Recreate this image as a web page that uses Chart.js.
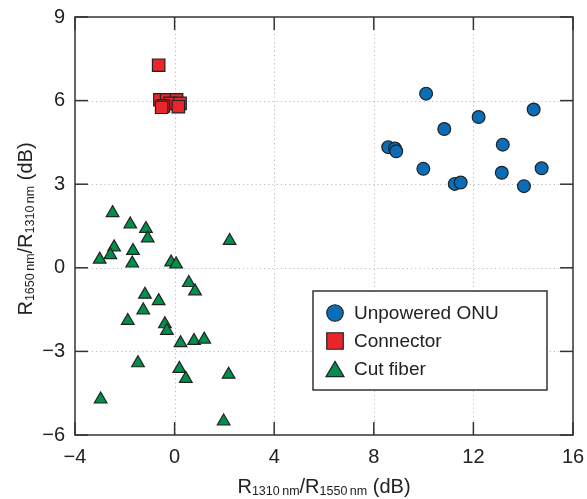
<!DOCTYPE html>
<html>
<head>
<meta charset="utf-8">
<script src="https://cdn.jsdelivr.net/npm/chart.js@4/dist/chart.umd.min.js"></script>
<style>
html,body{margin:0;padding:0;background:#fff;}
#wrap{position:relative;width:587px;height:499px;}
</style>
</head>
<body>
<div id="wrap"><canvas id="c" width="587" height="499"></canvas></div>
<script>
// ---- data ----
const xTicks = [-4, 0, 4, 8, 12, 16];
const yTicks = [-6, -3, 0, 3, 6, 9];

const seriesNames = ["Unpowered ONU", "Connector", "Cut fiber"];

const onuX = [10.10, 14.42, 12.21, 10.83, 8.58, 8.85, 8.90, 13.18, 9.99, 14.74, 13.14, 11.25, 11.49, 14.03];
const onuY = [6.25, 5.68, 5.41, 4.98, 4.33, 4.28, 4.18, 4.42, 3.55, 3.57, 3.41, 3.01, 3.06, 2.93];

const connX = [-0.64, -0.59, -0.32, 0.08, -0.18, 0.22, -0.45, 0.15, -0.52];
const connY = [7.27, 6.03, 6.03, 6.03, 5.90, 5.90, 5.81, 5.78, 5.76];

const cutX = [-2.49, -1.78, -1.15, -1.08, 2.21, -2.43, -1.67, -2.58, -3.01, -1.70, -0.14, 0.06, 0.57, 0.82, -1.19, -0.64, -1.26, -1.88, -0.39, -0.31, 0.24, 0.78, 1.19, -1.47, 0.19, 0.45, 2.17, -2.97, 1.97];
const cutY = [1.97, 1.56, 1.40, 1.06, 0.97, 0.74, 0.61, 0.46, 0.30, 0.16, 0.20, 0.13, -0.54, -0.84, -0.96, -1.19, -1.52, -1.90, -2.02, -2.26, -2.70, -2.62, -2.57, -3.42, -3.62, -3.98, -3.83, -4.72, -5.51];

// ---- styling ----
const FONT = '"Liberation Sans", Arial, Helvetica, sans-serif';
const TXT = '#222';
const colors = {onu: '#0b6db7', conn: '#e8262b', cut: '#00904a'};

const pts = (xs, ys) => xs.map((x, i) => ({x: x, y: ys[i]}));
const minusFmt = v => String(v).replace('-', '\u2212');

function drawMarker(ctx, style, x, y, size, fill) {
  ctx.save();
  ctx.fillStyle = fill;
  ctx.strokeStyle = '#222';
  ctx.lineWidth = 1.2;
  ctx.beginPath();
  if (style === 'circle') {
    ctx.arc(x, y, size / 2, 0, Math.PI * 2);
  } else if (style === 'rect') {
    ctx.rect(x - size / 2, y - size / 2, size, size);
  } else {
    const h = size * 0.85;
    ctx.moveTo(x, y - h / 2);
    ctx.lineTo(x + size / 2, y + h / 2);
    ctx.lineTo(x - size / 2, y + h / 2);
    ctx.closePath();
  }
  ctx.fill();
  ctx.stroke();
  ctx.restore();
}

function measureParts(ctx, parts, big, small) {
  let w = 0;
  parts.forEach(p => {
    ctx.font = (p.sub ? small : big) + 'px ' + FONT;
    p.w = ctx.measureText(p.t).width;
    w += p.w;
  });
  return w;
}
function renderParts(ctx, parts, x0, baseline, big, small, subDrop) {
  let x = x0;
  parts.forEach(p => {
    ctx.font = (p.sub ? small : big) + 'px ' + FONT;
    ctx.fillText(p.t, x, baseline + (p.sub ? subDrop : 0));
    x += p.w;
  });
}

const framePlugin = {
  id: 'frame',
  beforeDatasetsDraw(chart) {
    const ctx = chart.ctx, a = chart.chartArea;
    const xs = chart.scales.x, ys = chart.scales.y;
    ctx.save();
    // dotted grid lines
    ctx.strokeStyle = '#bdbdbd';
    ctx.lineWidth = 1;
    ctx.setLineDash([1.2, 3]);
    xTicks.forEach(v => {
      const px = Math.round(xs.getPixelForValue(v)) + 0.5;
      if (px <= a.left + 1 || px >= a.right - 1) return;
      ctx.beginPath(); ctx.moveTo(px, a.top); ctx.lineTo(px, a.bottom); ctx.stroke();
    });
    yTicks.forEach(v => {
      const py = Math.round(ys.getPixelForValue(v)) + 0.5;
      if (py <= a.top + 1 || py >= a.bottom - 1) return;
      ctx.beginPath(); ctx.moveTo(a.left, py); ctx.lineTo(a.right, py); ctx.stroke();
    });
    ctx.setLineDash([]);
    // inward ticks
    const TL = 13;
    ctx.strokeStyle = '#333';
    ctx.lineWidth = 1.5;
    xTicks.forEach(v => {
      const px = xs.getPixelForValue(v);
      ctx.beginPath(); ctx.moveTo(px, a.bottom); ctx.lineTo(px, a.bottom - TL); ctx.stroke();
      ctx.beginPath(); ctx.moveTo(px, a.top); ctx.lineTo(px, a.top + TL); ctx.stroke();
    });
    yTicks.forEach(v => {
      const py = ys.getPixelForValue(v);
      ctx.beginPath(); ctx.moveTo(a.left, py); ctx.lineTo(a.left + TL, py); ctx.stroke();
      ctx.beginPath(); ctx.moveTo(a.right, py); ctx.lineTo(a.right - TL, py); ctx.stroke();
    });
    // frame
    ctx.strokeRect(a.left, a.top, a.right - a.left, a.bottom - a.top);
    ctx.restore();
  },
  afterDraw(chart) {
    const ctx = chart.ctx, a = chart.chartArea;
    ctx.save();
    ctx.fillStyle = TXT;
    ctx.textBaseline = 'alphabetic';
    // x axis title
    const xParts = [{t: 'R'}, {t: '1310\u2009nm', sub: 1}, {t: '/R'}, {t: '1550\u2009nm', sub: 1}, {t: ' (dB)'}];
    const xw = measureParts(ctx, xParts, 20, 12.5);
    renderParts(ctx, xParts, (a.left + a.right) / 2 - xw / 2, 493, 20, 12.5, 2);
    // y axis title
    const yParts = [{t: 'R'}, {t: '1650\u2009nm', sub: 1}, {t: '/R'}, {t: '1310\u2009nm', sub: 1}, {t: ' (dB)'}];
    const yw = measureParts(ctx, yParts, 20, 12.5);
    ctx.translate(32, (a.top + a.bottom) / 2 + 3);
    ctx.rotate(-Math.PI / 2);
    renderParts(ctx, yParts, -yw / 2, 0, 20, 12.5, 2);
    ctx.restore();

    // legend
    ctx.save();
    const L = 313, T = 291, R = 547, B = 390;
    ctx.fillStyle = '#fff';
    ctx.fillRect(L, T, R - L, B - T);
    ctx.strokeStyle = '#333';
    ctx.lineWidth = 1.5;
    ctx.strokeRect(L, T, R - L, B - T);
    const items = [
      {name: seriesNames[0], style: 'circle', c: colors.onu},
      {name: seriesNames[1], style: 'rect', c: colors.conn},
      {name: seriesNames[2], style: 'triangle', c: colors.cut}
    ];
    items.forEach((it, i) => {
      const y = 313 + i * 28;
      drawMarker(ctx, it.style, 335, y, it.style === 'triangle' ? 18 : 16.5, it.c);
      ctx.fillStyle = TXT;
      ctx.font = '19px ' + FONT;
      ctx.textBaseline = 'middle';
      ctx.fillText(it.name, 354, y + 1);
    });
    ctx.restore();
  }
};

new Chart(document.getElementById('c'), {
  type: 'scatter',
  data: {
    datasets: [
      {label: seriesNames[2], data: pts(cutX, cutY), pointStyle: 'triangle', pointRadius: 7.3,
       backgroundColor: colors.cut, borderColor: '#222', borderWidth: 1.2},
      {label: seriesNames[1], data: pts(connX, connY), pointStyle: 'rect', pointRadius: 8.8,
       backgroundColor: colors.conn, borderColor: '#222', borderWidth: 1.2},
      {label: seriesNames[0], data: pts(onuX, onuY), pointStyle: 'circle', pointRadius: 6.4,
       backgroundColor: colors.onu, borderColor: '#222', borderWidth: 1.2}
    ]
  },
  options: {
    responsive: false,
    animation: false,
    events: [],
    layout: {padding: {left: 0, top: 17, right: 14, bottom: 0}},
    plugins: {legend: {display: false}, tooltip: {enabled: false}, title: {display: false}},
    scales: {
      x: {
        type: 'linear', min: -4, max: 16,
        afterBuildTicks: s => { s.ticks = xTicks.map(v => ({value: v})); },
        afterFit: s => { s.height = 64; s.paddingLeft = 0; s.paddingRight = 0; },
        grid: {display: false, drawTicks: false},
        border: {display: false},
        ticks: {padding: 10, color: TXT, font: {family: FONT, size: 20}, callback: v => minusFmt(v), maxRotation: 0}
      },
      y: {
        type: 'linear', min: -6, max: 9,
        afterBuildTicks: s => { s.ticks = yTicks.map(v => ({value: v})); },
        afterFit: s => { s.width = 75; s.paddingTop = 0; s.paddingBottom = 0; },
        grid: {display: false, drawTicks: false},
        border: {display: false},
        ticks: {padding: 10, color: TXT, font: {family: FONT, size: 20}, callback: v => minusFmt(v)}
      }
    }
  },
  plugins: [framePlugin]
});
</script>
</body>
</html>
